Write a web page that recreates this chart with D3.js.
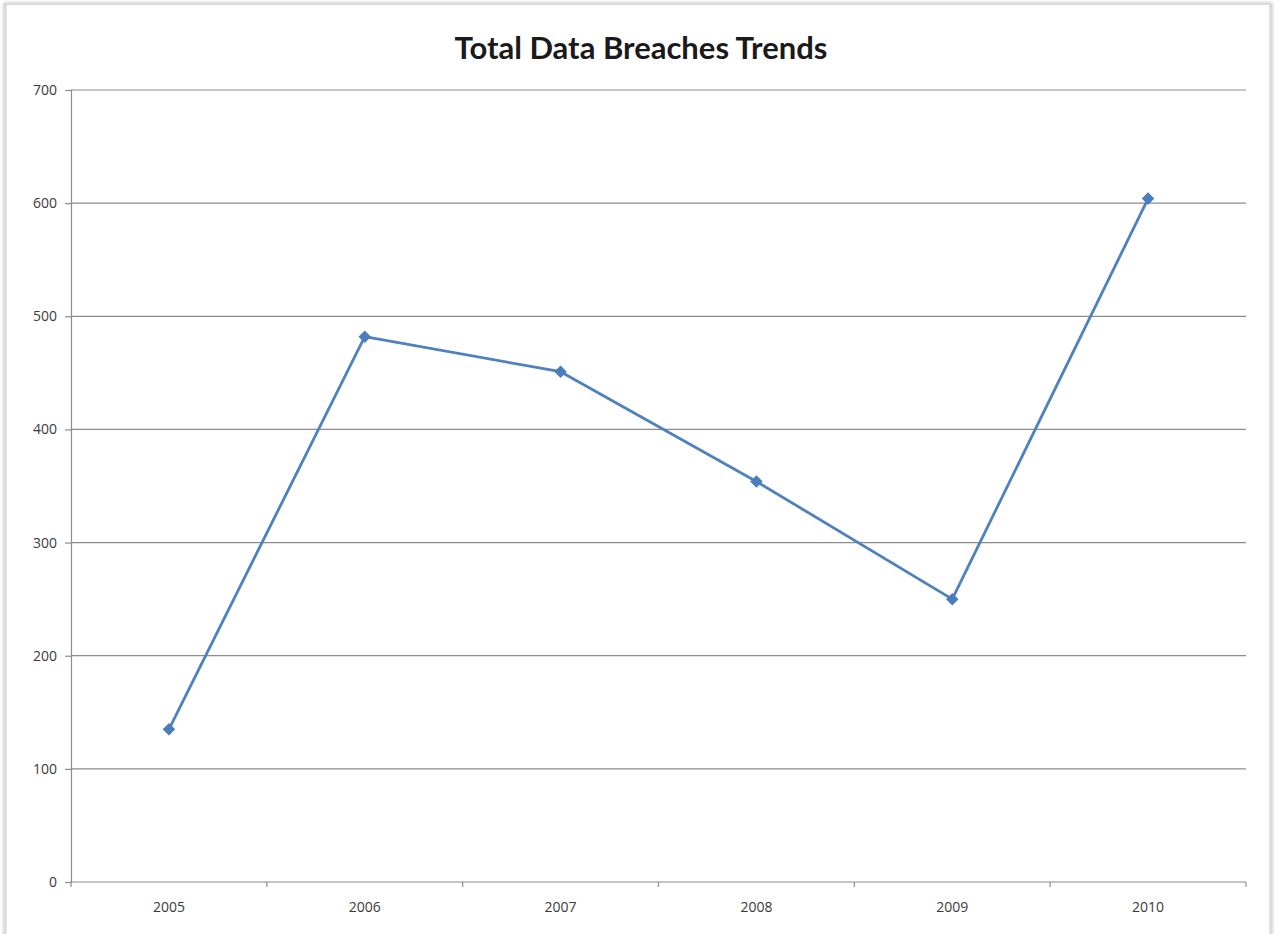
<!DOCTYPE html>
<html>
<head>
<meta charset="utf-8">
<script src="https://cdn.jsdelivr.net/npm/d3@7"></script>
<style>
  html, body { margin: 0; padding: 0; background: #fff; }
  svg { display: block; }
</style>
</head>
<body>
<svg id="chart" width="1276" height="934"></svg>
<script>
// Yearly totals of reported data breaches
const years = ["2005", "2006", "2007", "2008", "2009", "2010"];
const breaches = [135, 482, 451, 354, 250, 604];
const yTicks = [0, 100, 200, 300, 400, 500, 600, 700];
const titleText = "Total Data Breaches Trends";

const svg = d3.select("#chart");
const W = 1276, H = 934;
const margin = { left: 71, right: 30, top: 90, bottom: 52 };
const labelFont = "'Open Sans', 'DejaVu Sans', sans-serif";

// Outer chart frame with a soft shadow on the edges
const defs = svg.append("defs");
const f = defs.append("filter").attr("id", "soft").attr("x", "-5%").attr("y", "-5%").attr("width", "110%").attr("height", "110%");
f.append("feGaussianBlur").attr("stdDeviation", 1.5);
svg.append("rect").attr("x", 5).attr("y", 4).attr("width", 1266).attr("height", 940)
  .attr("fill", "none").attr("stroke", "#c8c8c8").attr("stroke-width", 3).attr("filter", "url(#soft)");
svg.append("rect").attr("x", 7).attr("y", 5).attr("width", 1262).attr("height", 940).attr("fill", "#fff");

const x = d3.scaleBand().domain(years).range([margin.left, W - margin.right]);
const y = d3.scaleLinear().domain([0, 700]).range([H - margin.bottom, margin.top]);

// Horizontal gridlines
svg.append("g").selectAll("line").data(yTicks.filter(d => d > 0)).join("line")
  .attr("x1", margin.left).attr("x2", W - margin.right)
  .attr("y1", d => y(d)).attr("y2", d => y(d))
  .attr("stroke", "#8c8c8c").attr("stroke-width", 1.2);

// Y axis
const yAxis = svg.append("g").attr("transform", `translate(${margin.left},0)`)
  .call(d3.axisLeft(y).tickValues(yTicks).tickSize(6).tickPadding(8));
yAxis.select(".domain").attr("stroke", "#8c8c8c").attr("stroke-width", 1.2);
yAxis.selectAll(".tick line").attr("stroke", "#8c8c8c").attr("stroke-width", 1.2);
yAxis.selectAll(".tick text").attr("fill", "#3a3a3a")
  .style("font-family", labelFont).style("font-size", "14px");

// X axis: ticks fall on category boundaries
const xAxisG = svg.append("g").attr("transform", `translate(0,${y(0)})`);
xAxisG.append("line").attr("x1", margin.left).attr("x2", W - margin.right)
  .attr("stroke", "#8c8c8c").attr("stroke-width", 1.2);
const bounds = years.map(d => x(d)).concat([x(years[years.length - 1]) + x.bandwidth()]);
xAxisG.selectAll("line.tk").data(bounds).join("line").attr("class", "tk")
  .attr("x1", d => d).attr("x2", d => d).attr("y1", 0).attr("y2", 5)
  .attr("stroke", "#8c8c8c").attr("stroke-width", 1.2);
xAxisG.selectAll("text").data(years).join("text")
  .attr("x", d => x(d) + x.bandwidth() / 2).attr("y", 30)
  .attr("text-anchor", "middle").attr("fill", "#3a3a3a")
  .style("font-family", labelFont).style("font-size", "14px")
  .text(d => d);

// Series line
const cx = d => x(d) + x.bandwidth() / 2;
const line = d3.line().x((d, i) => cx(years[i])).y(d => y(d));
svg.append("path").datum(breaches).attr("d", line)
  .attr("fill", "none").attr("stroke", "#4F81BD").attr("stroke-width", 2.8)
  .attr("stroke-linejoin", "round");

// Diamond markers
svg.append("g").selectAll("path").data(breaches).join("path")
  .attr("d", d3.symbol().type(d3.symbolDiamond2).size(100))
  .attr("transform", (d, i) => `translate(${cx(years[i])},${y(d)})`)
  .attr("fill", "#4A7EBB");

// Title
svg.append("text").attr("x", 641).attr("y", 59).attr("text-anchor", "middle")
  .attr("fill", "#1a1a1a")
  .style("font-family", "Lato, 'Open Sans', sans-serif").style("font-weight", "bold").style("font-size", "31px")
  .text(titleText);
</script>
</body>
</html>
